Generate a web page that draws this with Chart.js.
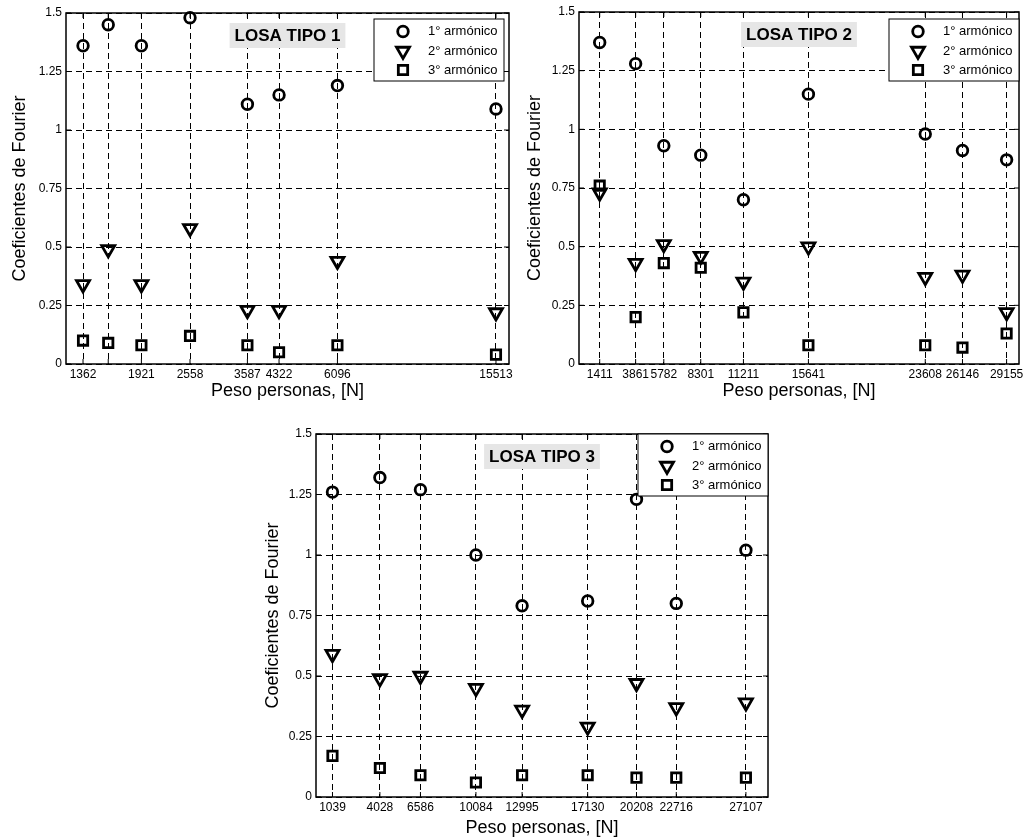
<!DOCTYPE html>
<html lang="es">
<head>
<meta charset="utf-8">
<title>Coeficientes de Fourier - Losas tipo 1, 2 y 3</title>
<script src="https://cdn.jsdelivr.net/npm/chart.js@4.4.1/dist/chart.umd.min.js"></script>
<style>
  html, body { margin: 0; padding: 0; background: #fff; }
  body { width: 1028px; height: 839px; position: relative; overflow: hidden; }
  canvas { position: absolute; }
  #losa1 { left: 0; top: 0; }
  #losa2 { left: 514px; top: 0; }
  #losa3 { left: 250px; top: 420px; }
</style>
</head>
<body>
<canvas id="losa1" width="514" height="410"></canvas>
<canvas id="losa2" width="514" height="410"></canvas>
<canvas id="losa3" width="530" height="419"></canvas>
<script>
// ---- Datos ----
const etiquetasSerie = ['1° armónico', '2° armónico', '3° armónico'];
const ticksY = [0, 0.25, 0.5, 0.75, 1, 1.25, 1.5];
const etiquetasY = ['0', '0.25', '0.5', '0.75', '1', '1.25', '1.5'];

// Losa tipo 1 (eje X logaritmico)
const pesos1 = [1362, 1580, 1921, 2558, 3587, 4322, 6096, 15513];
const etiquetasX1 = ['1362', '', '1921', '2558', '3587', '4322', '6096', '15513'];
const arm1Losa1 = [1.36, 1.45, 1.36, 1.48, 1.11, 1.15, 1.19, 1.09];
const arm2Losa1 = [0.34, 0.49, 0.34, 0.58, 0.23, 0.23, 0.44, 0.22];
const arm3Losa1 = [0.10, 0.09, 0.08, 0.12, 0.08, 0.05, 0.08, 0.04];

// Losa tipo 2
const pesos2 = [1411, 3861, 5782, 8301, 11211, 15641, 23608, 26146, 29155];
const etiquetasX2 = ['1411', '3861', '5782', '8301', '11211', '15641', '23608', '26146', '29155'];
const arm1Losa2 = [1.37, 1.28, 0.93, 0.89, 0.70, 1.15, 0.98, 0.91, 0.87];
const arm2Losa2 = [0.73, 0.43, 0.51, 0.46, 0.35, 0.50, 0.37, 0.38, 0.22];
const arm3Losa2 = [0.76, 0.20, 0.43, 0.41, 0.22, 0.08, 0.08, 0.07, 0.13];

// Losa tipo 3
const pesos3 = [1039, 4028, 6586, 10084, 12995, 17130, 20208, 22716, 27107];
const etiquetasX3 = ['1039', '4028', '6586', '10084', '12995', '17130', '20208', '22716', '27107'];
const arm1Losa3 = [1.26, 1.32, 1.27, 1.00, 0.79, 0.81, 1.23, 0.80, 1.02];
const arm2Losa3 = [0.59, 0.49, 0.50, 0.45, 0.36, 0.29, 0.47, 0.37, 0.39];
const arm3Losa3 = [0.17, 0.12, 0.09, 0.06, 0.09, 0.09, 0.08, 0.08, 0.08];

// ---- Estilo ----
const FUENTE = "'Liberation Sans', Arial, Helvetica, sans-serif";
Chart.defaults.font.family = FUENTE;
Chart.defaults.color = '#000';

const MARCADORES = [
  { estilo: 'circle', radio: 5.3, rotacion: 0 },
  { estilo: 'triangle', radio: 7.5, rotacion: 180 },
  { estilo: 'rect', radio: 6.6, rotacion: 0 }
];
const GROSOR_MARCADOR = 2.8;

function dibujarMarcador(ctx, m, x, y) {
  ctx.beginPath();
  if (m.estilo === 'circle') {
    ctx.arc(x, y, m.radio, 0, Math.PI * 2);
  } else if (m.estilo === 'triangle') {
    const r = m.radio;
    ctx.moveTo(x - r * 0.866, y - r / 2);
    ctx.lineTo(x + r * 0.866, y - r / 2);
    ctx.lineTo(x, y + r);
    ctx.closePath();
  } else {
    const s = m.radio * Math.SQRT1_2;
    ctx.rect(x - s, y - s, 2 * s, 2 * s);
  }
  ctx.stroke();
}

// Marco, marcas interiores, etiqueta de titulo y leyenda estilo MATLAB
const marcoPlugin = {
  id: 'marco',
  beforeDatasetsDraw(chart, args, o) {
    const { ctx, chartArea: a, scales: { x, y } } = chart;
    ctx.save();
    ctx.strokeStyle = '#000';
    ctx.lineWidth = 1;
    ctx.setLineDash([]);
    ctx.beginPath();
    x.ticks.forEach(t => {
      const px = x.getPixelForValue(t.value);
      ctx.moveTo(px, a.bottom); ctx.lineTo(px, a.bottom - 5);
      ctx.moveTo(px, a.top); ctx.lineTo(px, a.top + 5);
    });
    y.ticks.forEach(t => {
      const py = y.getPixelForValue(t.value);
      ctx.moveTo(a.left, py); ctx.lineTo(a.left + 5, py);
      ctx.moveTo(a.right, py); ctx.lineTo(a.right - 5, py);
    });
    ctx.stroke();
    ctx.lineWidth = 1.5;
    ctx.strokeRect(a.left, a.top, a.right - a.left, a.bottom - a.top);

    // recuadro gris con el titulo
    ctx.font = 'bold 17px ' + FUENTE;
    const ancho = ctx.measureText(o.titulo).width + 10;
    const cx = (a.left + a.right) / 2;
    ctx.fillStyle = '#e6e6e6';
    ctx.fillRect(cx - ancho / 2, a.top + 10, ancho, 25);
    ctx.fillStyle = '#000';
    ctx.textAlign = 'center';
    ctx.textBaseline = 'middle';
    ctx.fillText(o.titulo, cx, a.top + 23);
    ctx.restore();
  },
  afterDatasetsDraw(chart, args, o) {
    const { ctx, chartArea: a } = chart;
    const w = 130, h = 62;
    const x0 = a.right - o.leyendaDx - w;
    const y0 = a.top + o.leyendaDy;
    ctx.save();
    ctx.fillStyle = '#fff';
    ctx.fillRect(x0, y0, w, h);
    ctx.strokeStyle = '#000';
    ctx.lineWidth = 1;
    ctx.strokeRect(x0, y0, w, h);
    const filas = [12.5, 32, 51];
    chart.data.datasets.forEach((ds, i) => {
      ctx.lineWidth = GROSOR_MARCADOR;
      dibujarMarcador(ctx, MARCADORES[i], x0 + 29, y0 + filas[i]);
      ctx.fillStyle = '#000';
      ctx.font = '13px ' + FUENTE;
      ctx.textAlign = 'left';
      ctx.textBaseline = 'middle';
      ctx.fillText(ds.label, x0 + 54, y0 + filas[i]);
    });
    ctx.restore();
  }
};

function crearGraficaLosa(canvasId, cfg) {
  const series = [cfg.arm1, cfg.arm2, cfg.arm3];
  const datasets = series.map((valores, i) => ({
    label: etiquetasSerie[i],
    data: cfg.pesos.map((p, k) => ({ x: p, y: valores[k] })),
    pointStyle: MARCADORES[i].estilo,
    pointRadius: MARCADORES[i].radio,
    pointRotation: MARCADORES[i].rotacion,
    pointBorderWidth: GROSOR_MARCADOR,
    pointBorderColor: '#000',
    pointBackgroundColor: 'rgba(0,0,0,0)',
    clip: false
  }));

  return new Chart(document.getElementById(canvasId).getContext('2d'), {
    type: 'scatter',
    data: { datasets },
    plugins: [marcoPlugin],
    options: {
      responsive: false,
      animation: false,
      events: [],
      layout: {
        autoPadding: false,
        padding: { left: 0, top: cfg.padTop, right: cfg.padRight, bottom: 0 }
      },
      plugins: {
        legend: { display: false },
        tooltip: { enabled: false },
        marco: { titulo: cfg.titulo, leyendaDx: cfg.leyendaDx, leyendaDy: cfg.leyendaDy }
      },
      scales: {
        x: {
          type: cfg.tipoX,
          min: cfg.minX,
          max: cfg.maxX,
          afterBuildTicks: (eje) => { eje.ticks = cfg.pesos.map(v => ({ value: v })); },
          afterFit: (eje) => {
            eje.height = cfg.altoX;
            // las etiquetas extremas no deben encoger el area del grafico
            eje.paddingLeft = 0;
            eje.paddingRight = 0;
          },
          grid: { color: '#000', lineWidth: 1, drawTicks: false },
          border: { display: false, dash: [6, 4] },
          ticks: {
            autoSkip: false, maxRotation: 0, minRotation: 0, padding: 3,
            font: { size: 12 },
            callback: (v, i) => cfg.etiquetasX[i]
          },
          title: {
            display: true, text: 'Peso personas, [N]',
            font: { size: 18 }, padding: { top: 0, bottom: cfg.padTituloX }
          }
        },
        y: {
          type: 'linear',
          min: 0,
          max: 1.5,
          afterBuildTicks: (eje) => { eje.ticks = ticksY.map(v => ({ value: v })); },
          afterFit: (eje) => {
            eje.width = cfg.anchoY;
            eje.paddingTop = 0;
            eje.paddingBottom = 0;
          },
          grid: { color: '#000', lineWidth: 1, drawTicks: false },
          border: { display: false, dash: [6, 4] },
          ticks: { padding: 4, font: { size: 12 }, callback: (v, i) => etiquetasY[i] },
          title: {
            display: true, text: 'Coeficientes de Fourier',
            font: { size: 18 }, padding: { top: cfg.padTituloY, bottom: 0 }
          }
        }
      }
    }
  });
}

crearGraficaLosa('losa1', {
  titulo: 'LOSA TIPO 1', pesos: pesos1, etiquetasX: etiquetasX1,
  arm1: arm1Losa1, arm2: arm2Losa1, arm3: arm3Losa1,
  tipoX: 'logarithmic', minX: 1232, maxX: 16750,
  padTop: 13, padRight: 5, anchoY: 66, altoX: 46,
  padTituloX: 8, padTituloY: 9, leyendaDx: 5, leyendaDy: 6
});

crearGraficaLosa('losa2', {
  titulo: 'LOSA TIPO 2', pesos: pesos2, etiquetasX: etiquetasX2,
  arm1: arm1Losa2, arm2: arm2Losa2, arm3: arm3Losa2,
  tipoX: 'linear', minX: 0, maxX: 30000,
  padTop: 12, padRight: 9, anchoY: 65, altoX: 46,
  padTituloX: 8, padTituloY: 10, leyendaDx: 0, leyendaDy: 7
});

crearGraficaLosa('losa3', {
  titulo: 'LOSA TIPO 3', pesos: pesos3, etiquetasX: etiquetasX3,
  arm1: arm1Losa3, arm2: arm2Losa3, arm3: arm3Losa3,
  tipoX: 'linear', minX: 0, maxX: 28500,
  padTop: 14, padRight: 12, anchoY: 66, altoX: 42,
  padTituloX: 0, padTituloY: 12, leyendaDx: 0, leyendaDy: 0
});
</script>
</body>
</html>
